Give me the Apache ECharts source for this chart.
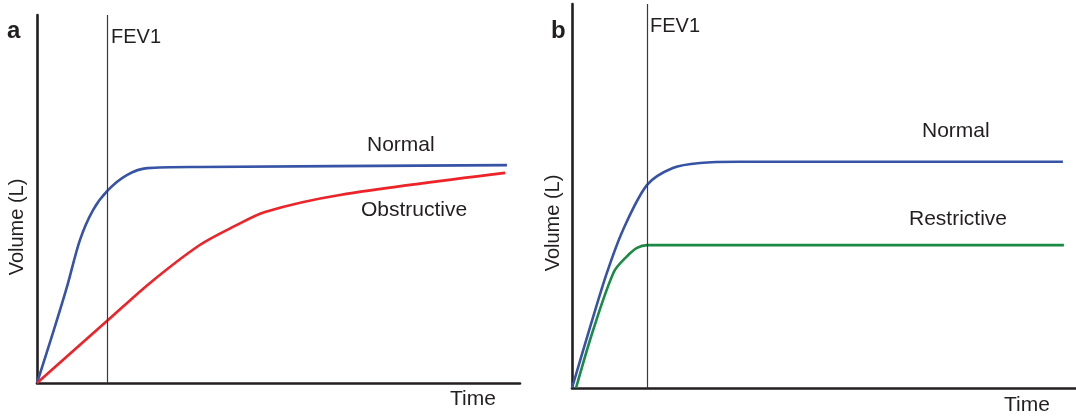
<!DOCTYPE html>
<html>
<head>
<meta charset="utf-8">
<script src="https://cdn.jsdelivr.net/npm/echarts@6/dist/echarts.min.js"></script>
<style>
  html, body { margin: 0; padding: 0; background: #fff; }
  #charts { width: 1076px; height: 417px; }
</style>
</head>
<body>
<div id="charts"></div>
<script>
// time / volume in arbitrary units (0-100 on each axis)
var normalA = [[0, 0], [3.3, 13.6], [6.2, 26.1], [8.9, 38.9], [11.6, 47.0], [14.7, 52.4], [18.6, 56.5], [22.8, 58.4], [33.7, 58.7], [97.3, 59.2]];
var obstructiveA = [[0, 0], [14.7, 17.1], [23.4, 27.2], [33.7, 37.5], [41.0, 42.7], [47.2, 46.5], [62.7, 51.1], [96.9, 57.1]];
var normalB = [[0, 0], [3.6, 15.9], [6.9, 29.9], [10.1, 41.1], [14.9, 52.9], [20.0, 57.3], [25.4, 58.6], [33.3, 58.9], [97.4, 58.9]];
var restrictiveB = [[0.8, 0], [4.2, 15.1], [8.3, 30.2], [10.9, 34.3], [12.9, 36.5], [14.9, 37.2], [97.6, 37.2]];
var fev1A = 14.6;
var fev1B = 14.9;

var FONT = '"Liberation Sans", Arial, sans-serif';
var INK = '#231f20';

function axis(idx) {
    return {
        type: 'value',
        gridIndex: idx,
        min: 0,
        max: 100,
        axisLine: { show: true, lineStyle: { color: INK, width: 2.6 } },
        axisTick: { show: false },
        axisLabel: { show: false },
        splitLine: { show: false }
    };
}

function curve(idx, data, color, fev1) {
    var s = {
        type: 'line',
        xAxisIndex: idx,
        yAxisIndex: idx,
        data: data,
        showSymbol: false,
        smooth: 0.3,
        lineStyle: { color: color, width: 2.6 },
        silent: true
    };
    if (fev1 != null) {
        s.markLine = {
            silent: true,
            symbol: 'none',
            label: { show: false },
            lineStyle: { color: '#3a3a3a', width: 1.2, type: 'solid' },
            data: [{ xAxis: fev1 }]
        };
    }
    return s;
}

// x, y = baseline position of the text
function txt(str, x, y, size, opts) {
    opts = opts || {};
    var rot = opts.rotation || 0;
    var off = 0.36 * size;
    return {
        type: 'text',
        x: rot ? x - off : x,
        y: rot ? y : y - off,
        rotation: rot,
        style: {
            text: str,
            fill: INK,
            font: (opts.bold ? 'bold ' : '') + size + 'px ' + FONT,
            align: opts.align || 'left',
            verticalAlign: 'middle'
        }
    };
}

var myChart = echarts.init(document.getElementById('charts'));
var option = {
    animation: false,
    grid: [
        { left: 37, top: 15, width: 483, height: 368 },
        { left: 572, top: 4, width: 504, height: 384 }
    ],
    xAxis: [axis(0), axis(1)],
    yAxis: [axis(0), axis(1)],
    series: [
        curve(0, normalA, '#3653a5', fev1A),
        curve(0, obstructiveA, '#ee2227'),
        curve(1, normalB, '#3653a5', fev1B),
        curve(1, restrictiveB, '#1b8a45')
    ],
    graphic: [
        txt('a', 7, 40, 24, { bold: true }),
        txt('b', 551, 40, 24, { bold: true }),
        txt('FEV1', 111, 45, 20),
        txt('FEV1', 650, 34, 20),
        txt('Normal', 367, 153, 21),
        txt('Obstructive', 361, 218, 21),
        txt('Normal', 922, 139, 21),
        txt('Restrictive', 909, 227, 21),
        txt('Time', 450, 407, 21),
        txt('Time', 1004, 413, 21),
        txt('Volume (L)', 25, 227, 20, { rotation: Math.PI / 2, align: 'center' }),
        txt('Volume (L)', 561, 223, 20, { rotation: Math.PI / 2, align: 'center' })
    ]
};
myChart.setOption(option);
</script>
</body>
</html>
